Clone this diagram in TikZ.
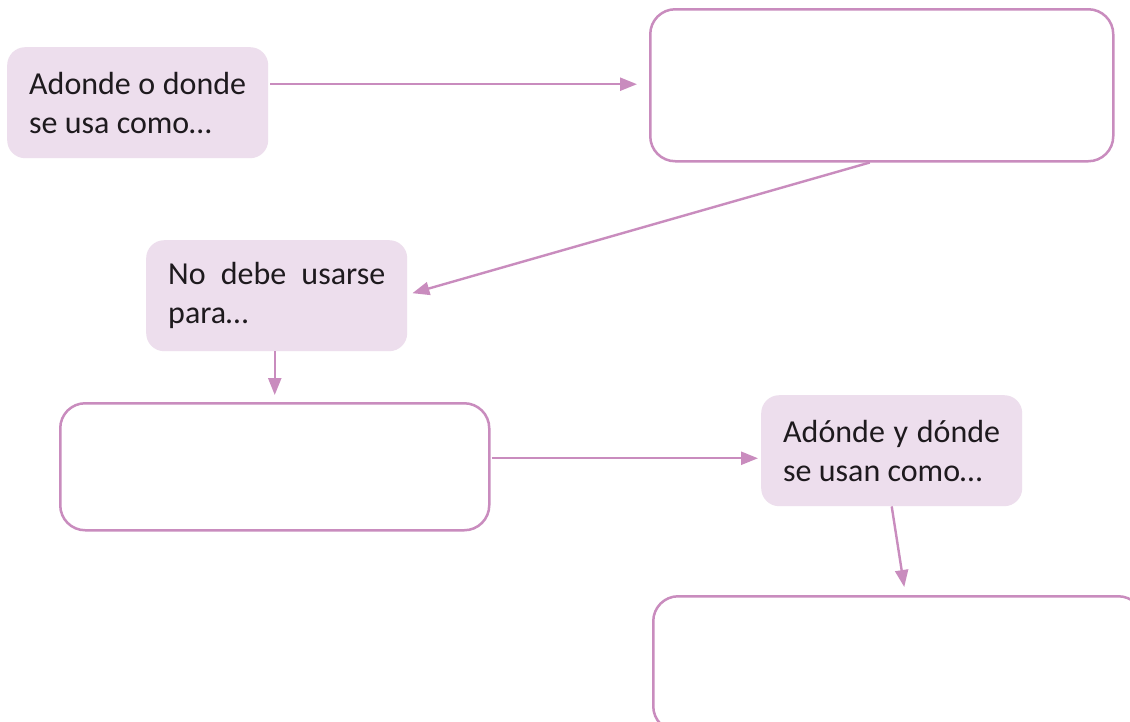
\documentclass[tikz,border=0pt]{standalone}
\usepackage{fontspec}
\setmainfont{Carlito}
\usetikzlibrary{arrows.meta,calc}
\definecolor{lineC}{HTML}{C98CBE}
\definecolor{fillC}{HTML}{EDDEED}
\definecolor{textC}{HTML}{1E1A1E}
\newcommand{\boxfont}{\fontsize{32}{39}\selectfont\hyphenpenalty=10000 \exhyphenpenalty=10000 \tolerance=10000 }
\begin{document}
\begin{tikzpicture}[x=1pt,y=-1pt,
  txtbox/.style={rounded corners=18pt, fill=fillC, draw=none, text=textC,
    text width=217pt, inner xsep=22pt, inner ysep=0pt, minimum height=111pt,
    align=justify, anchor=north west, font=\boxfont},
  emptybox/.style={rounded corners=25pt, draw=lineC, line width=2.5pt, fill=white, anchor=north west, inner sep=0pt},
  conn/.style={draw=lineC, line width=2.4pt, -{Triangle[length=17pt,width=13pt]}}
]
\useasboundingbox (0,0) rectangle (1130,721);
\clip (0,0) rectangle (1130,721);
\fill[white] (0,0) rectangle (1130,721);

\node[txtbox] (A) at (7,47) {Adonde o donde se usa como\dots};
\node[emptybox, minimum width=463pt, minimum height=152pt] (B) at (649,8) {};
\node[txtbox] (C) at (146,240) {No debe usarse para\dots};
\node[emptybox, minimum width=429pt, minimum height=127pt] (D) at (59,402) {};
\node[txtbox] (E) at (761,395) {Ad\'onde y d\'onde se usan como\dots};
\node[emptybox, minimum width=490pt, minimum height=135pt] (F) at (652,595) {};

\coordinate (a1) at ($(A.east)+(2pt,18.5pt)$);
\draw[conn, shorten >=12pt] (a1) -- (a1 -| B.west);
\draw[conn] ([xshift=-12pt]B.south) -- ([xshift=5pt,yshift=2.5pt]C.east);
\coordinate (c1) at (C.south -| D.north);
\draw[conn] (c1) -- ([yshift=7pt]D.north);
\coordinate (d1) at ($(D.east)+(1pt,8.5pt)$);
\draw[conn, shorten >=3pt] (d1) -- (d1 -| E.west);
\draw[conn] (E.south) -- ([xshift=6pt,yshift=8pt]F.north);
\end{tikzpicture}
\end{document}
